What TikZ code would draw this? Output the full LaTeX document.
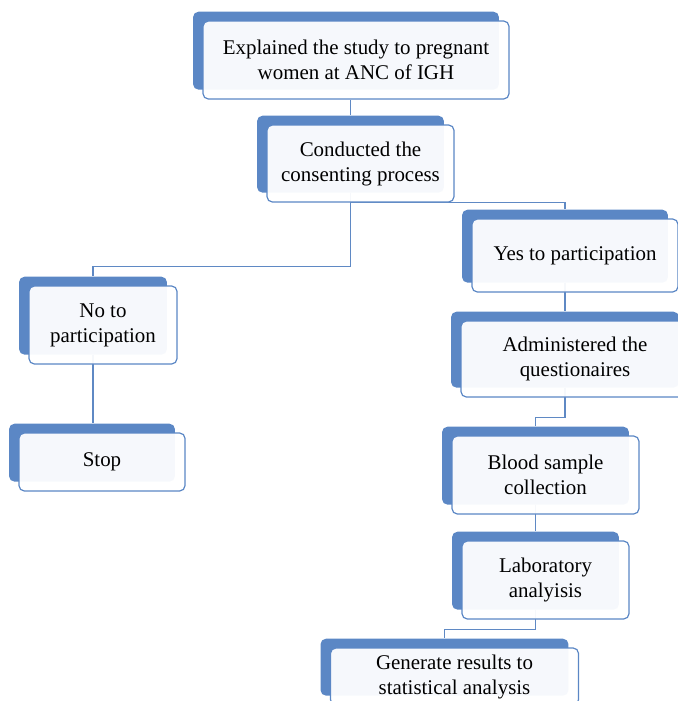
\documentclass[tikz,border=0pt]{standalone}
\usepackage{fontspec}
\setmainfont{Liberation Serif}
\usetikzlibrary{positioning, fit, backgrounds}
\definecolor{boxblue}{HTML}{5B87C5}
\definecolor{lineblue}{HTML}{5F89C4}

\begin{document}
\begin{tikzpicture}[
  x=0.75pt, y=-0.75pt,
  font=\fontsize{15.7}{18.75}\selectfont,
  box/.style={draw=boxblue, line width=0.9pt, rounded corners=4pt, fill=white, fill opacity=0.95, text opacity=1, align=center, inner sep=0pt},
  backbox/.style={fill=boxblue, rounded corners=4pt, inner sep=-0.5pt, xshift=-7.5pt, yshift=7pt},
  link/.style={draw=lineblue, line width=0.8pt},
]
\useasboundingbox (0,0) rectangle (678,701);

% Front boxes
\node[box, minimum width=229.5pt, minimum height=58.5pt] (explain) at (356,60) {Explained the study to pregnant\\women at ANC of IGH};
\node[box, minimum width=140.25pt, minimum height=57.75pt] (conduct) at (360.5,163.5) {Conducted the\\consenting process};
\node[box, minimum width=111pt, minimum height=58.5pt] (no) at (103,325) {No to\\participation};
\node[box, minimum width=124.5pt, minimum height=43.5pt] (stop) at (102,462) {Stop};
\node[box, minimum width=154.5pt, minimum height=54.75pt] (yes) at (575,255.5) {Yes to participation};
\node[box, minimum width=171pt, minimum height=57pt] (admin) at (575,359) {Administered the\\questionaires};
\node[box, minimum width=140.25pt, minimum height=58.5pt] (blood) at (545.5,475) {Blood sample\\collection};
\node[box, minimum width=125.25pt, minimum height=58.5pt] (lab) at (545.5,580) {Laboratory\\analyisis};
\node[box, minimum width=186pt, minimum height=42.75pt] (gen) at (454.5,676.5) {Generate results to\\statistical analysis};

\begin{scope}[on background layer]
% Blue panels behind the boxes
\node[backbox, fit=(explain)] (explainbg) {};
\node[backbox, fit=(conduct)] (conductbg) {};
\node[backbox, fit=(no)] (nobg) {};
\node[backbox, fit=(stop)] (stopbg) {};
\node[backbox, fit=(yes)] (yesbg) {};
\node[backbox, fit=(admin)] (adminbg) {};
\node[backbox, fit=(blood)] (bloodbg) {};
\node[backbox, fit=(lab)] (labbg) {};
\node[backbox, fit=(gen)] (genbg) {};

% Connectors
\draw[link] (conductbg.north |- explain.south) -- (conductbg.north);
\draw[link] (conductbg.south) -- ++(0,74) -| (nobg.north);
\draw[link] (conductbg.south |- conduct.south) -| (yesbg.north);
\draw[link] (nobg.south) -- (nobg.south |- stopbg.north);
\draw[link] (yesbg.south) -- (yesbg.south |- adminbg.north);
\draw[link] (adminbg.south) -- ++(0,30) -| (bloodbg.north);
\draw[link] (bloodbg.south) -- (bloodbg.south |- labbg.north);
\draw[link] (labbg.south) -- ++(0,20) -| (genbg.north);
\end{scope}

\end{tikzpicture}
\end{document}
